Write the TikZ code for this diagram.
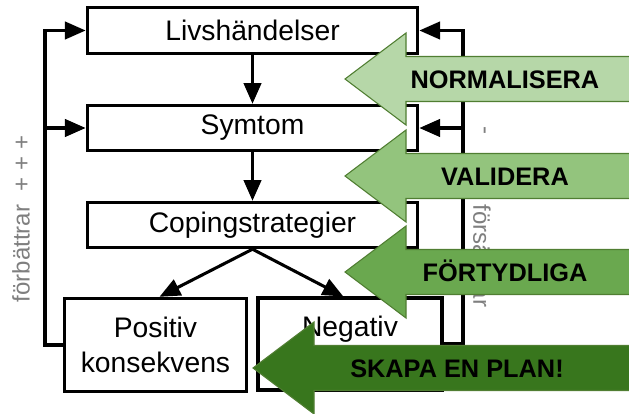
\documentclass[tikz,border=0pt]{standalone}
\usepackage{fontspec}
\setmainfont{Liberation Sans}
\usepackage{tikz}
\usetikzlibrary{arrows.meta}
\definecolor{greenA}{HTML}{B6D7A8}
\definecolor{greenB}{HTML}{93C47D}
\definecolor{greenC}{HTML}{6AA84F}
\definecolor{greenD}{HTML}{38761D}
\definecolor{frame}{HTML}{507E32}
\definecolor{soft}{HTML}{7F7F7F}
% block arrow pointing left: tip x, tip y, fill
\newcommand{\planarrow}[3]{%
  \draw[blockar,fill=#3] (#1,#2) -- ++(61,-46) -- ++(0,23.5) -- ++(400,0)
    -- ++(0,45) -- ++(-400,0) -- ++(0,23.5) -- cycle;}

\begin{document}
\begin{tikzpicture}[x=0.75pt,y=-0.75pt,
  box/.style={draw,line width=2.3pt,fill=white,font=\fontsize{21.2}{26.5}\selectfont,align=center},
  wide/.style={box,minimum width=248pt,minimum height=34pt},
  ar/.style={line width=2.3pt,-{Triangle[length=15.5pt,width=13pt]}},
  side/.style={font=\fontsize{18}{20}\selectfont,text=soft},
  stage/.style={font=\fontsize{19}{21}\selectfont\bfseries,text height=13.6pt,text depth=0pt},
  blockar/.style={draw=frame,line width=0.8pt},
]
\useasboundingbox (0,0) rectangle (629,414);
\clip (0,0) rectangle (629,414);

% chain
\node[wide] (liv) at (252.5,30.5) {Livshändelser};
\node[wide] (sym) at (252.5,128) {Symtom};
\node[wide] (cop) at (252.5,225) {Copingstrategier};
\node[box,minimum width=137pt,minimum height=70pt] (pos) at (155.5,345) {Positiv\\konsekvens};
\node[box,minimum width=138pt,minimum height=69pt] (neg) at (350,344) {Negativ\\\mbox{}};
\draw[ar] (liv) -- (sym);
\draw[ar] (sym) -- (cop);
\draw[ar] (cop.south) -- ([xshift=3pt]pos.north);
\draw[ar] (cop.south) -- ([xshift=-5pt]neg.north);

% feedback loops
\coordinate (lft) at (45,0);
\coordinate (rgt) at (463,0);
\draw[ar] (pos.west) -| (lft |- liv.west) -- (liv.west);
\draw[ar] (lft |- sym.west) -- (sym.west);
\draw[ar] (neg.east) -| (rgt |- liv.east) -- (liv.east);
\draw[ar] (rgt |- sym.east) -- (sym.east);
\node[side,rotate=90] (better) at (21,219) {förbättrar~~+ + +};
\node[side,rotate=-90] (minus) at (482,130) {-};
\node[side,rotate=-90] (worse) at (482,256) {försämrar};

% steps
\planarrow{345}{79}{greenA}
\node[stage] (norm) at (505,79) {NORMALISERA};
\planarrow{345}{176}{greenB}
\node[stage] (val) at (505,176) {VALIDERA};
\planarrow{345}{272}{greenC}
\node[stage] (fort) at (505,272) {FÖRTYDLIGA};
\planarrow{253}{368}{greenD}
\node[stage] (plan) at (457,368) {SKAPA EN PLAN!};
\end{tikzpicture}
\end{document}
